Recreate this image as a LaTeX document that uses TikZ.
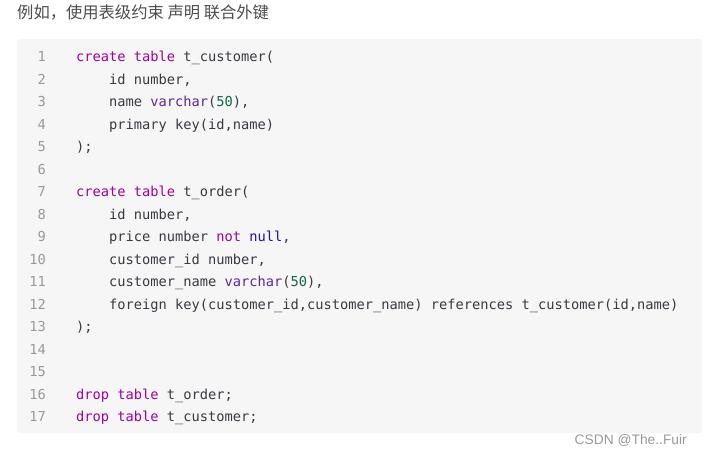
\documentclass[tikz,border=0pt]{standalone}
\usepackage{fontspec}
\setmonofont{DejaVu Sans Mono}
\newfontfamily\cjkfont{Noto Sans CJK SC}
\newfontfamily\markfont{Liberation Sans}
\definecolor{panelbg}{RGB}{246,246,246}
\definecolor{codetext}{RGB}{56,58,66}
\definecolor{linegray}{RGB}{153,153,153}
\definecolor{kwpurple}{RGB}{160,0,160}
\definecolor{typurple}{RGB}{92,38,153}
\definecolor{litblue}{RGB}{34,17,170}
\definecolor{numgreen}{RGB}{17,102,68}
\definecolor{titlegray}{RGB}{77,77,77}
\newcommand{\sqlkw}[1]{\textcolor{kwpurple}{#1}}
\newcommand{\sqlty}[1]{\textcolor{typurple}{#1}}
\newcommand{\sqllit}[1]{\textcolor{litblue}{#1}}
\newcommand{\sqlnum}[1]{\textcolor{numgreen}{#1}}
\tikzset{
    panel/.style={fill=panelbg, rounded corners=3pt},
    titel/.style={anchor=west, inner sep=0pt, text=titlegray,
        font=\cjkfont\fontsize{16.3}{19}\selectfont},
    codeline/.style={anchor=base west, inner sep=0pt, text=codetext,
        font=\ttfamily\fontsize{13.7}{16}\selectfont},
    lineno/.style={anchor=base east, inner sep=0pt, text=linegray,
        font=\ttfamily\fontsize{13.7}{16}\selectfont},
    marke/.style={anchor=east, inner sep=0pt, text=linegray,
        font=\markfont\fontsize{13.8}{16}\selectfont}}

\begin{document}
\begin{tikzpicture}[x=1pt, y=-1pt]
    \useasboundingbox (0,0) rectangle (702,455);
    \fill[panel] (17,39) rectangle (702,433);
    \node (titel) [titel] at (17,13) {例如，使用表级约束 声明 联合外键};

    % zeilennummern
    \foreach \n in {1,...,17}
        \node (n\n) [lineno] at (46,{61.5+(\n-1)*22.5}) {\n};

    \node (l1) [codeline] at (76,61.5) {\sqlkw{create table} t\_customer(};
    \node (l2) [codeline] at (109,84) {id number,};
    \node (l3) [codeline] at (109,106.5) {name \sqlty{varchar}(\sqlnum{50}),};
    \node (l4) [codeline] at (109,129) {primary key(id,name)};
    \node (l5) [codeline] at (76,151.5) {);};
    \node (l7) [codeline] at (76,196.5) {\sqlkw{create table} t\_order(};
    \node (l8) [codeline] at (109,219) {id number,};
    \node (l9) [codeline] at (109,241.5) {price number \sqlkw{not} \sqllit{null},};
    \node (l10) [codeline] at (109,264) {customer\_id number,};
    \node (l11) [codeline] at (109,286.5) {customer\_name \sqlty{varchar}(\sqlnum{50}),};
    \node (l12) [codeline] at (109,309) {foreign key(customer\_id,customer\_name) references t\_customer(id,name)};
    \node (l13) [codeline] at (76,331.5) {);};
    \node (l16) [codeline] at (76,399) {\sqlkw{drop table} t\_order;};
    \node (l17) [codeline] at (76,421.5) {\sqlkw{drop table} t\_customer;};

    \node (marke) [marke] at (687,440) {CSDN @The..Fuir};
\end{tikzpicture}
\end{document}
